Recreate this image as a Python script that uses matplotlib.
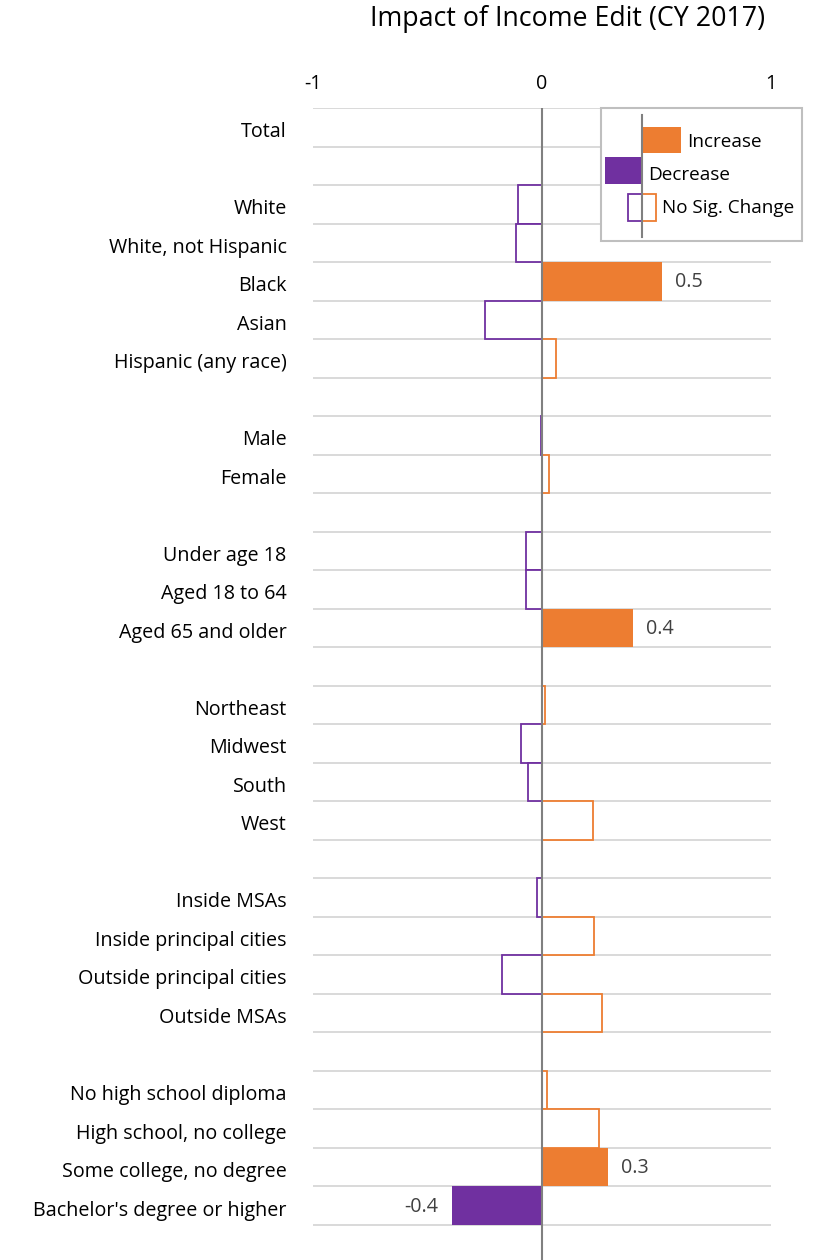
import matplotlib
matplotlib.use("Agg")
import matplotlib.pyplot as plt
from matplotlib.patches import Rectangle

plt.rcParams["font.family"] = ["Open Sans", "DejaVu Sans"]

# ---- data -------------------------------------------------------------
categories = [
    "Total", "",
    "White", "White, not Hispanic", "Black", "Asian", "Hispanic (any race)", "",
    "Male", "Female", "",
    "Under age 18", "Aged 18 to 64", "Aged 65 and older", "",
    "Northeast", "Midwest", "South", "West", "",
    "Inside MSAs", "Inside principal cities", "Outside principal cities", "Outside MSAs", "",
    "No high school diploma", "High school, no college", "Some college, no degree",
    "Bachelor's degree or higher",
]
values = [
    0.0, None,
    -0.105, -0.112, 0.524, -0.251, 0.062, None,
    -0.006, 0.030, None,
    -0.068, -0.068, 0.399, None,
    0.011, -0.093, -0.060, 0.224, None,
    -0.024, 0.227, -0.173, 0.260, None,
    0.022, 0.247, 0.290, -0.393,
]
significant = [
    False, False,
    False, False, True, False, False, False,
    False, False, False,
    False, False, True, False,
    False, False, False, False, False,
    False, False, False, False, False,
    False, False, True, True,
]
x_ticks = [-1, 0, 1]
title = "Impact of Income Edit (CY 2017)"
legend_labels = ["Increase", "Decrease", "No Sig. Change"]

ORANGE = "#ED7D31"
PURPLE = "#7030A0"
GRID = "#D9D9D9"
ZERO = "#808080"
TEXT = "#000000"
LABEL = "#404040"
FS = 14.2

W, H = 815, 1260
fig = plt.figure(figsize=(W / 100, H / 100), dpi=100)

left, right, top, bottom = 313, 771, 108, 1260
ax = fig.add_axes([left / W, 1 - bottom / H, (right - left) / W, (bottom - top) / H])

n = len(categories)
row_px = (1225 - top) / n
extra = (bottom - 1225) / row_px
ax.set_xlim(-1, 1)
ax.set_ylim(n - 0.5 + extra, -0.5)

# horizontal separators between category rows
for b in range(n + 1):
    ax.plot([-1, 1], [b - 0.5, b - 0.5], color=GRID, lw=1.4, zorder=1,
            solid_capstyle="butt")

for i, (v, sig) in enumerate(zip(values, significant)):
    if v is None:
        continue
    color = ORANGE if v >= 0 else PURPLE
    if sig:
        ax.barh(i, v, height=1.0, color=color, edgecolor="none", zorder=2)
        ha = "left" if v >= 0 else "right"
        off = 0.056 if v >= 0 else -0.062
        ax.text(v + off, i + 0.03, f"{v:.1f}", ha=ha, va="center", fontsize=FS,
                color=LABEL, zorder=4)
    else:
        ax.barh(i, v, height=1.0, facecolor="white", edgecolor=color,
                linewidth=1.3, zorder=2)

ax.axvline(0, color=ZERO, lw=1.5, zorder=3)

ax.xaxis.tick_top()
ax.set_xticks(x_ticks)
ax.set_xticklabels([str(t) for t in x_ticks], fontsize=FS, color=TEXT)
ax.tick_params(axis="x", length=0, pad=10)
ax.set_yticks([i + 0.06 for i in range(n)])
ax.set_yticklabels(categories, fontsize=FS, color=TEXT)
ax.tick_params(axis="y", length=0, pad=19)
for s in ax.spines.values():
    s.set_visible(False)

fig.text(568 / W, 1 - 19 / H, title, ha="center", va="center", fontsize=19.3,
         color=TEXT)

# ---- custom legend box (pixel coordinates) ---------------------------
lg = fig.add_axes([0, 0, 1, 1], zorder=5)
lg.set_xlim(0, W)
lg.set_ylim(H, 0)
lg.axis("off")
lg.add_patch(Rectangle((601, 108), 201, 133, facecolor="white",
                       edgecolor="#BFBFBF", lw=1.5))
lg.add_patch(Rectangle((642, 127), 39, 26, facecolor=ORANGE, edgecolor="none"))
lg.add_patch(Rectangle((605, 157), 37, 27, facecolor=PURPLE, edgecolor="none"))
lg.add_patch(Rectangle((628, 194), 14, 27, facecolor="white", edgecolor=PURPLE, lw=1.3))
lg.add_patch(Rectangle((642, 194), 14, 27, facecolor="white", edgecolor=ORANGE, lw=1.3))
lg.plot([642, 642], [115, 237], color=ZERO, lw=1.5)
lg.text(687, 142, legend_labels[0], va="center", ha="left", fontsize=13.6, color=TEXT)
lg.text(648, 175, legend_labels[1], va="center", ha="left", fontsize=13.6, color=TEXT)
lg.text(662, 208, legend_labels[2], va="center", ha="left", fontsize=13.6, color=TEXT)

fig.savefig("out.png", dpi=100, facecolor="white")
